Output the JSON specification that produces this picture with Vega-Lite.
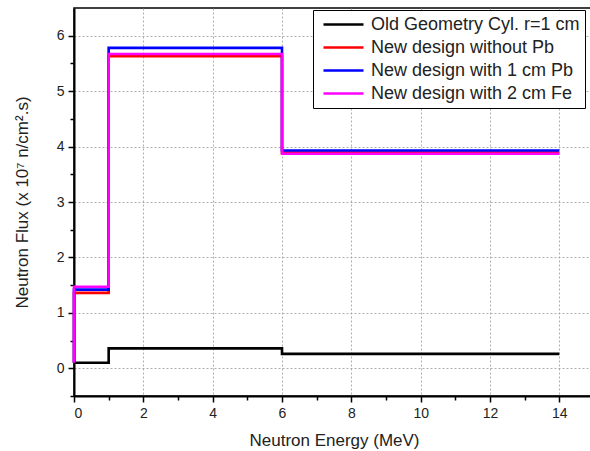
{
  "$schema": "https://vega.github.io/schema/vega-lite/v6.json",
  "width": 520,
  "height": 388,
  "autosize": {"type": "none"},
  "padding": {"left": 74, "top": 8, "right": 0, "bottom": 55},
  "background": "white",
  "config": {
    "font": "Liberation Sans",
    "view": {"stroke": "black", "strokeWidth": 1.5},
    "axis": {"labelFont": "Liberation Sans", "titleFont": "Liberation Sans", "labelColor": "#222", "titleColor": "#222", "titleFontWeight": "normal"}
  },
  "data": {
    "values": [
      {"s": "Old Geometry Cyl. r=1 cm", "i": 1, "x": 0, "y": 0.1},
      {"s": "Old Geometry Cyl. r=1 cm", "i": 2, "x": 1, "y": 0.36},
      {"s": "Old Geometry Cyl. r=1 cm", "i": 3, "x": 6, "y": 0.26},
      {"s": "Old Geometry Cyl. r=1 cm", "i": 4, "x": 14, "y": 0.26},
      {"s": "New design without Pb", "i": 0, "x": 0, "y": 0.1},
      {"s": "New design without Pb", "i": 1, "x": 0, "y": 1.36},
      {"s": "New design without Pb", "i": 2, "x": 1, "y": 5.63},
      {"s": "New design without Pb", "i": 3, "x": 6, "y": 3.89},
      {"s": "New design without Pb", "i": 4, "x": 14, "y": 3.89},
      {"s": "New design with 1 cm Pb", "i": 0, "x": 0, "y": 0.1},
      {"s": "New design with 1 cm Pb", "i": 1, "x": 0, "y": 1.42},
      {"s": "New design with 1 cm Pb", "i": 2, "x": 1, "y": 5.78},
      {"s": "New design with 1 cm Pb", "i": 3, "x": 6, "y": 3.93},
      {"s": "New design with 1 cm Pb", "i": 4, "x": 14, "y": 3.93},
      {"s": "New design with 2 cm Fe", "i": 0, "x": 0, "y": 0.1},
      {"s": "New design with 2 cm Fe", "i": 1, "x": 0, "y": 1.47},
      {"s": "New design with 2 cm Fe", "i": 2, "x": 1, "y": 5.67},
      {"s": "New design with 2 cm Fe", "i": 3, "x": 6, "y": 3.87},
      {"s": "New design with 2 cm Fe", "i": 4, "x": 14, "y": 3.87}
    ]
  },
  "layer": [
    {
      "mark": {"type": "line", "interpolate": "step-after", "strokeWidth": 2.6},
      "encoding": {
        "x": {
          "field": "x", "type": "quantitative",
          "scale": {"domain": [0, 15], "nice": false, "zero": false},
          "axis": {
            "title": "Neutron Energy (MeV)", "titleFontSize": 17, "titlePadding": 12,
            "values": [0, 2, 4, 6, 8, 10, 12, 14],
            "labelFontSize": 14, "labelPadding": 4, "tickSize": 6, "tickColor": "black", "tickWidth": 1.5,
            "domainColor": "black", "domainWidth": 2,
            "grid": true, "gridColor": "#999", "gridDash": [2, 2], "gridWidth": 0.8
          }
        },
        "y": {
          "field": "y", "type": "quantitative",
          "scale": {"domain": [-0.5, 6.5], "nice": false, "zero": false},
          "axis": {
            "title": "Neutron Flux (x 10⁷ n/cm².s)", "titleFontSize": 17, "titlePadding": 25,
            "values": [0, 1, 2, 3, 4, 5, 6],
            "labelFontSize": 14, "labelPadding": 4, "tickSize": 6, "tickColor": "black", "tickWidth": 1.5,
            "domainColor": "black", "domainWidth": 2,
            "grid": true, "gridColor": "#999", "gridDash": [2, 2], "gridWidth": 0.8
          }
        },
        "color": {
          "field": "s", "type": "nominal",
          "scale": {
            "domain": ["Old Geometry Cyl. r=1 cm", "New design without Pb", "New design with 1 cm Pb", "New design with 2 cm Fe"],
            "range": ["#000000", "#ff0000", "#0000ff", "#ff00ff"]
          },
          "legend": {
            "title": null, "orient": "none", "legendX": 239, "legendY": 2,
            "symbolType": "M-0.5,0L4.5,0", "symbolSize": 256, "symbolStrokeWidth": 2.6,
            "labelFontSize": 18, "labelColor": "#222", "labelLimit": 400,
            "strokeColor": "black", "fillColor": "white",
            "padding": 5, "rowPadding": 4, "labelOffset": 34
          }
        },
        "order": {"field": "i", "type": "quantitative"}
      }
    },
    {
      "mark": {"type": "point", "opacity": 0},
      "encoding": {
        "x": {
          "field": "x", "type": "quantitative",
          "axis": {"orient": "bottom", "title": null, "labels": false, "grid": false, "domain": false,
                   "values": [1, 3, 5, 7, 9, 11, 13], "tickSize": 4, "tickColor": "black", "tickWidth": 1.5}
        },
        "y": {
          "field": "y", "type": "quantitative",
          "axis": {"orient": "left", "title": null, "labels": false, "grid": false, "domain": false,
                   "values": [-0.5, 0.5, 1.5, 2.5, 3.5, 4.5, 5.5], "tickSize": 4, "tickColor": "black", "tickWidth": 1.5}
        }
      }
    }
  ],
  "resolve": {"axis": {"x": "independent", "y": "independent"}}
}
